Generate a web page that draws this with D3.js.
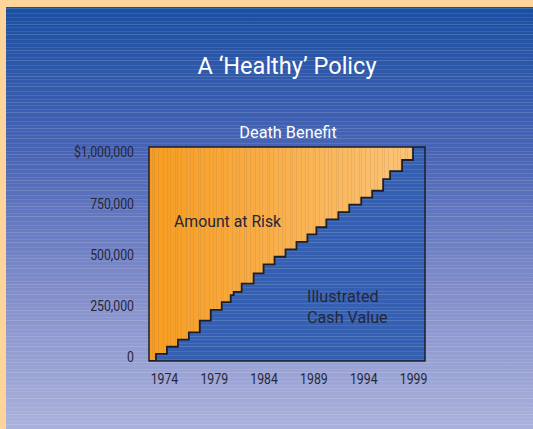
<!DOCTYPE html>
<html>
<head>
<meta charset="utf-8">
<script src="https://cdn.jsdelivr.net/npm/d3@7"></script>
<style>
  body { margin: 0; background: #fdd49a; }
  svg { display: block; }
  text { font-family: Roboto, "Liberation Sans", sans-serif; }
</style>
</head>
<body>
<script>
// chart values
const years = [1972.5, 1973.2, 1974.3, 1975.4, 1976.5, 1977.6, 1978.7, 1979.8, 1980.7, 1981.0,
               1981.8, 1983.0, 1984.0, 1985.1, 1986.2, 1987.3, 1988.4, 1989.3, 1990.3, 1991.5,
               1992.6, 1993.8, 1994.9, 1996.0, 1996.7, 1997.9, 1999.0];
const cashValue = [0, 15000, 50000, 85000, 120000, 177000, 230000, 268000, 302000, 318000,
                   358000, 408000, 452000, 489000, 525000, 562000, 598000, 633000, 671000, 707000,
                   743000, 777000, 811000, 868000, 907000, 961000, 1026000];
const yearTicks = [1974, 1979, 1984, 1989, 1994, 1999];
const valueTicks = [0, 250000, 500000, 750000, 1000000];
const title = "A \u2018Healthy\u2019 Policy";

const W = 533, H = 429;
const frame = {left: 149, right: 425, top: 147, bottom: 361};
const narrow = 0.82; // condensed look for tick labels

const svg = d3.select("body").append("svg")
    .attr("width", W)
    .attr("height", H);

const defs = svg.append("defs");

// panel background gradient
const bg = defs.append("linearGradient").attr("id", "bg")
    .attr("x1", 0).attr("y1", 0).attr("x2", 0).attr("y2", 1);
bg.append("stop").attr("offset", "0%").attr("stop-color", "#1a4fa1");
bg.append("stop").attr("offset", "35%").attr("stop-color", "#4a65b5");
bg.append("stop").attr("offset", "70%").attr("stop-color", "#8691cb");
bg.append("stop").attr("offset", "100%").attr("stop-color", "#aab2db");

// orange gradient
const og = defs.append("linearGradient").attr("id", "og")
    .attr("x1", 0).attr("y1", 0).attr("x2", 1).attr("y2", 0);
og.append("stop").attr("offset", "0%").attr("stop-color", "#f79c1f");
og.append("stop").attr("offset", "100%").attr("stop-color", "#fcc67c");

// horizontal stripes
const hs = defs.append("pattern").attr("id", "hstripes")
    .attr("patternUnits", "userSpaceOnUse")
    .attr("width", 10).attr("height", 26);
[1, 5, 8, 13, 17, 21, 24].forEach(o => {
  hs.append("rect").attr("x", 0).attr("y", o).attr("width", 10).attr("height", 1)
    .attr("fill", "#fff").attr("fill-opacity", o % 2 ? 0.09 : 0.15);
});

// vertical stripes for orange area
const vs = defs.append("pattern").attr("id", "vstripes")
    .attr("patternUnits", "userSpaceOnUse")
    .attr("width", 23).attr("height", 10);
[2, 6, 9, 14, 16, 20].forEach(o => {
  vs.append("rect").attr("x", o).attr("y", 0).attr("width", 1).attr("height", 10)
    .attr("fill", "#8a6a60").attr("fill-opacity", 0.14);
});

defs.append("clipPath").attr("id", "clip")
  .append("rect")
    .attr("x", frame.left).attr("y", frame.top)
    .attr("width", frame.right - frame.left)
    .attr("height", frame.bottom - frame.top);

// panel
svg.append("rect").attr("x", 6).attr("y", 7).attr("width", W - 6).attr("height", H - 7)
    .attr("fill", "url(#bg)");
svg.append("rect").attr("x", 6).attr("y", 7).attr("width", W - 6).attr("height", H - 7)
    .attr("fill", "url(#hstripes)");

const x = d3.scaleLinear()
    .domain([years[0], 2000.2])
    .range([frame.left, frame.right]);
const y = d3.scaleLinear()
    .domain([0, 1000000])
    .range([357, 152]);

const data = years.map((yr, i) => ({year: yr, value: cashValue[i]}));
data.push({year: x.domain()[1], value: cashValue[cashValue.length - 1]});

const plot = svg.append("g").attr("clip-path", "url(#clip)");

// amount at risk (orange) fills the frame
plot.append("rect")
    .attr("x", frame.left).attr("y", frame.top)
    .attr("width", frame.right - frame.left)
    .attr("height", frame.bottom - frame.top)
    .attr("fill", "url(#og)");
plot.append("rect")
    .attr("x", frame.left).attr("y", frame.top)
    .attr("width", frame.right - frame.left)
    .attr("height", frame.bottom - frame.top)
    .attr("fill", "url(#vstripes)");

const area = d3.area()
    .curve(d3.curveStepAfter)
    .x(d => x(d.year))
    .y0(frame.bottom)
    .y1(d => d.value === 0 ? frame.bottom : y(d.value));

plot.append("path")
    .datum(data)
    .attr("fill", "#3560b1")
    .attr("d", area);
plot.append("path")
    .datum(data)
    .attr("fill", "url(#hstripes)")
    .attr("d", area);

const line = d3.line()
    .curve(d3.curveStepAfter)
    .x(d => x(d.year))
    .y(d => d.value === 0 ? frame.bottom : y(d.value));

plot.append("path")
    .datum(data)
    .attr("fill", "none")
    .attr("stroke", "#1e1e28")
    .attr("stroke-width", 1.8)
    .attr("d", line);

// frame
svg.append("rect")
    .attr("x", frame.left).attr("y", frame.top)
    .attr("width", frame.right - frame.left)
    .attr("height", frame.bottom - frame.top)
    .attr("fill", "none")
    .attr("stroke", "#1e1e28")
    .attr("stroke-width", 1.5);

// axes
const fmt = d3.format(",");
const yAxis = svg.append("g")
    .attr("transform", `translate(${frame.left},0)`)
    .call(d3.axisLeft(y).tickValues(valueTicks).tickSize(0).tickPadding(15 / narrow)
      .tickFormat(v => v === 1000000 ? "$" + fmt(v) : fmt(v)));
yAxis.select(".domain").remove();
yAxis.selectAll("text")
    .attr("transform", `scale(${narrow},1)`)
    .style("font-size", "15px")
    .attr("fill", "#26263a");

const xAxis = svg.append("g")
    .attr("transform", `translate(0,${frame.bottom})`)
    .call(d3.axisBottom(x).tickValues(yearTicks).tickSize(0).tickPadding(12)
      .tickFormat(d3.format("d")));
xAxis.select(".domain").remove();
xAxis.selectAll("text")
    .attr("transform", `scale(${narrow},1)`)
    .style("font-size", "15px")
    .attr("fill", "#26263a");
svg.selectAll(".tick text").attr("font-family", null);
svg.selectAll(".tick").attr("font-family", null);
yAxis.attr("font-family", null);
xAxis.attr("font-family", null);

// titles and labels
function label(px, py, sx, size, color, anchor, str) {
  return svg.append("text")
    .attr("transform", `translate(${px},${py}) scale(${sx},1)`)
    .attr("text-anchor", anchor)
    .attr("fill", color)
    .style("font-size", size + "px")
    .text(str);
}

label(287, 74, 0.98, 24, "#fff", "middle", title);
label(288, 137.5, 0.96, 17, "#fff", "middle", "Death Benefit");
label(174, 226.5, 0.93, 17, "#26263a", "start", "Amount at Risk");
label(307, 302, 0.95, 17, "#26263a", "start", "Illustrated");
label(307, 323, 0.95, 17, "#26263a", "start", "Cash Value");
</script>
</body>
</html>
